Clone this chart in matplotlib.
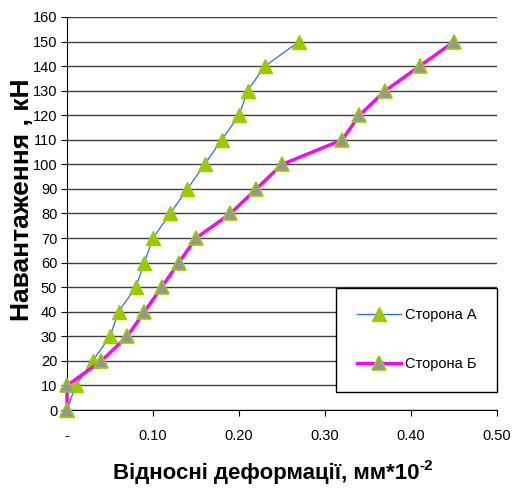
import matplotlib
matplotlib.use("Agg")
import matplotlib.pyplot as plt
from matplotlib.ticker import FixedLocator, FixedFormatter

plt.rcParams['font.family'] = ['Liberation Sans', 'DejaVu Sans']

# Load steps, kN
load = [0, 10, 20, 30, 40, 50, 60, 70, 80, 90, 100, 110, 120, 130, 140, 150]
# Relative strain, mm*10^-2
side_a = [0.00, 0.01, 0.03, 0.05, 0.06, 0.08, 0.09, 0.10, 0.12, 0.14,
          0.16, 0.18, 0.20, 0.21, 0.23, 0.27]
side_b = [0.00, 0.00, 0.04, 0.07, 0.09, 0.11, 0.13, 0.15, 0.19, 0.22,
          0.25, 0.32, 0.34, 0.37, 0.41, 0.45]

x_ticks = [0.0, 0.1, 0.2, 0.3, 0.4, 0.5]
x_tick_labels = ['-', '0.10', '0.20', '0.30', '0.40', '0.50']
y_ticks = list(range(0, 161, 10))

label_a = 'Сторона А'
label_b = 'Сторона Б'
x_title = 'Відносні деформації, мм*10'
x_title_exp = '-2'
y_title = 'Навантаження , кН'

W, H = 512, 491
fig = plt.figure(figsize=(W / 100, H / 100), dpi=100)
ax = fig.add_axes([67/W, 1 - 410/H, (497 - 67)/W, (410 - 17)/H])

ax.plot(side_a, load, color='#3366FF', lw=0.9, marker='^', markersize=10.5,
        markerfacecolor='#99CC00', markeredgecolor='#99CC00', label=label_a,
        zorder=3, clip_on=False)
ax.plot(side_b, load, color='#FF00FF', lw=2.4, marker='^', markersize=10.5,
        markerfacecolor='#969696', markeredgecolor='#99CC00', markeredgewidth=1.2,
        label=label_b, zorder=4, clip_on=False)

ax.set_xlim(0, 0.5)
ax.set_ylim(0, 160)
ax.xaxis.set_major_locator(FixedLocator(x_ticks))
ax.xaxis.set_major_formatter(FixedFormatter(x_tick_labels))
ax.set_yticks(y_ticks)

ax.yaxis.grid(True, color='#404040', lw=1.0)
ax.set_axisbelow(True)
for s in ['top', 'right']:
    ax.spines[s].set_visible(False)
ax.spines['left'].set_color('black')
ax.spines['bottom'].set_color('black')

ax.tick_params(axis='x', direction='out', length=4, width=0.8, pad=10, labelsize=10.5)
ax.tick_params(axis='y', direction='out', length=4, width=0.8, pad=3, labelsize=10.5)

# Axis titles
fig.text(22/W, 1 - 200/H, y_title, rotation=90, ha='center', va='center',
         fontsize=19, fontweight='bold')
xt = fig.text(266/W, 1 - 473/H, x_title, ha='center', va='center',
              fontsize=16, fontweight='bold')
fig.canvas.draw()
bb = xt.get_window_extent()
fig.text(bb.x1 / W, (bb.y1 - 4) / H, x_title_exp, ha='left', va='center',
         fontsize=11, fontweight='bold')

leg = ax.legend(loc='upper right', bbox_to_anchor=(497/W, 1 - 288/H),
                bbox_transform=fig.transFigure, fontsize=10.5, frameon=True,
                fancybox=False, edgecolor='black', framealpha=1,
                borderpad=1.4, labelspacing=2.4, handlelength=3.0,
                handletextpad=0.3, borderaxespad=0)
leg.get_frame().set_linewidth(1.0)

fig.savefig('out.png', dpi=100)
